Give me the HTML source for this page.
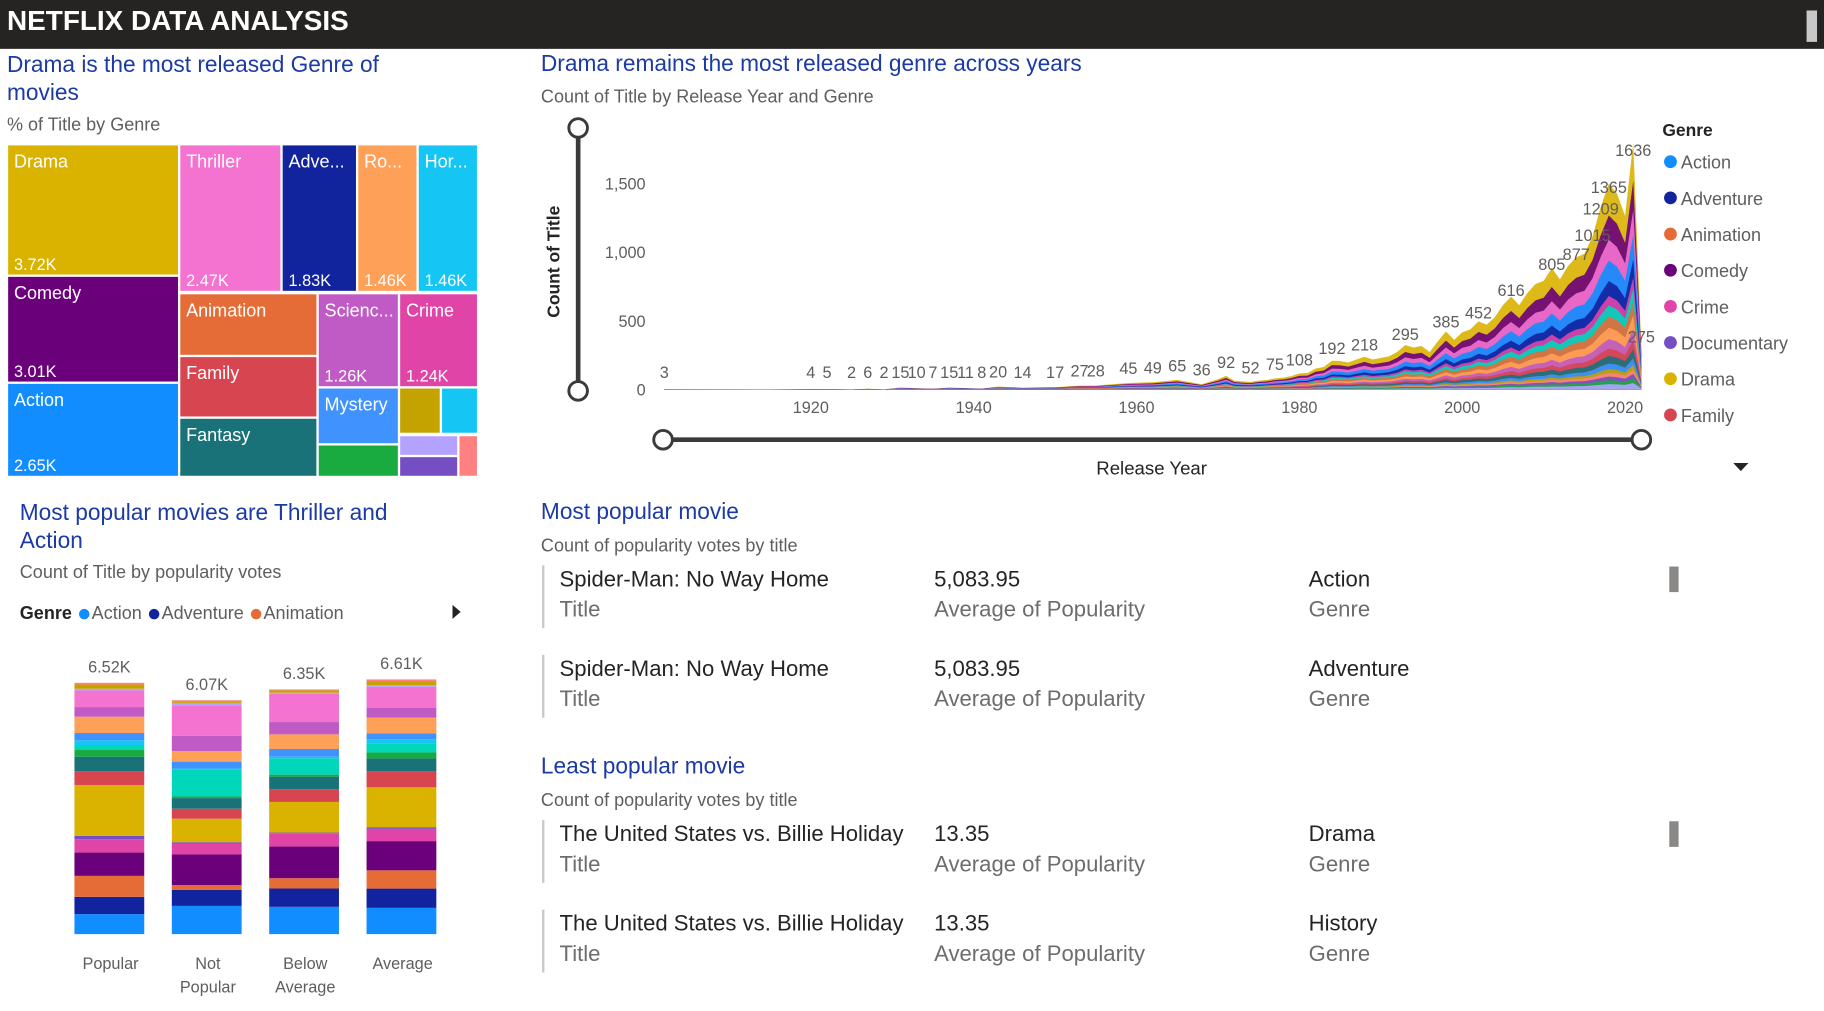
<!DOCTYPE html>
<html><head><meta charset="utf-8">
<style>
html,body{margin:0;padding:0;width:1824px;height:1011px;overflow:hidden;background:#fff;font-family:"Liberation Sans",sans-serif}
#root{position:absolute;left:0;top:0;width:1568px;height:869px;transform:scale(1.16327);transform-origin:0 0}
.abs{position:absolute}
.title{position:absolute;color:#1c3aa6;font-size:19.5px;line-height:24px}
.sub{position:absolute;color:#605e5c;font-size:15.5px}
.tm{position:absolute;color:#fff;font-size:15.5px;box-sizing:border-box;overflow:hidden}
.tm span{position:absolute;left:5px;top:6px;white-space:nowrap}
.tm b{position:absolute;left:5px;bottom:1px;font-weight:normal;font-size:14px}
.card{position:absolute;left:466px;width:1000px;height:54px;border-left:2px solid #c8c8c8}
.card div{position:absolute;font-size:19px;color:#252423;white-space:nowrap}
.card .l{color:#6f6d6b}
.dot{font-size:21px;line-height:10px;vertical-align:-2px}
</style></head><body>
<div id="root">
<div class="abs" style="left:0;top:0;width:1568px;height:42px;background:#252423"></div>
<div class="abs" style="left:6px;top:5px;color:#fff;font-weight:bold;font-size:24px">NETFLIX DATA ANALYSIS</div>
<div class="abs" style="left:1553px;top:9px;width:9px;height:27px;background:#c8c8c8"></div>

<div class="title" style="left:6px;top:44px;width:380px">Drama is the most released Genre of movies</div>
<div class="sub" style="left:6px;top:99px">% of Title by Genre</div>
<div>
<div class="tm" style="left:7px;top:125px;width:146px;height:111px;background:#d9b300"><span>Drama</span><b>3.72K</b></div>
<div class="tm" style="left:155px;top:125px;width:86px;height:125px;background:#f472d0"><span>Thriller</span><b>2.47K</b></div>
<div class="tm" style="left:243px;top:125px;width:63px;height:125px;background:#12239e"><span>Adve...</span><b>1.83K</b></div>
<div class="tm" style="left:308px;top:125px;width:50px;height:125px;background:#ffa058"><span>Ro...</span><b>1.46K</b></div>
<div class="tm" style="left:360px;top:125px;width:50px;height:125px;background:#15c6f4"><span>Hor...</span><b>1.46K</b></div>
<div class="tm" style="left:7px;top:238px;width:146px;height:90px;background:#6b007b"><span>Comedy</span><b>3.01K</b></div>
<div class="tm" style="left:7px;top:330px;width:146px;height:79px;background:#118dff"><span>Action</span><b>2.65K</b></div>
<div class="tm" style="left:155px;top:253px;width:117px;height:52px;background:#e66c37"><span>Animation</span></div>
<div class="tm" style="left:155px;top:307px;width:117px;height:51px;background:#d64550"><span>Family</span></div>
<div class="tm" style="left:155px;top:360px;width:117px;height:49px;background:#197278"><span>Fantasy</span></div>
<div class="tm" style="left:274px;top:253px;width:68px;height:79px;background:#c05bc5"><span>Scienc...</span><b>1.26K</b></div>
<div class="tm" style="left:344px;top:253px;width:66px;height:79px;background:#e044a7"><span>Crime</span><b>1.24K</b></div>
<div class="tm" style="left:274px;top:334px;width:68px;height:47px;background:#4092ff"><span>Mystery</span></div>
<div class="tm" style="left:274px;top:383px;width:68px;height:26px;background:#1aab40"></div>
<div class="tm" style="left:344px;top:334px;width:34px;height:38px;background:#c4a200"></div>
<div class="tm" style="left:380px;top:334px;width:30px;height:38px;background:#15c6f4"></div>
<div class="tm" style="left:344px;top:375px;width:49px;height:16px;background:#b3a3ff"></div>
<div class="tm" style="left:344px;top:393px;width:49px;height:16px;background:#744ec2"></div>
<div class="tm" style="left:395px;top:375px;width:15px;height:34px;background:#ff8080"></div>
</div>

<div class="title" style="left:465px;top:43px">Drama remains the most released genre across years</div>
<div class="sub" style="left:465px;top:75px">Count of Title by Release Year and Genre</div>
<svg class="abs" style="left:0;top:0" width="1568" height="869" id="area"></svg>

<div class="title" style="left:17px;top:429px;width:350px">Most popular movies are Thriller and Action</div>
<div class="sub" style="left:17px;top:484px">Count of Title by popularity votes</div>
<div class="abs" style="left:17px;top:519px;font-size:15.5px;color:#605e5c;white-space:nowrap">
<b style="color:#252423">Genre</b>
<span class="dot" style="color:#118dff">●</span>Action
<span class="dot" style="color:#12239e">●</span>Adventure
<span class="dot" style="color:#e66c37">●</span>Animation</div>
<div class="abs" style="left:389px;top:520px;width:0;height:0;border-top:6px solid transparent;border-bottom:6px solid transparent;border-left:7px solid #252423"></div>
<svg class="abs" style="left:0;top:0" width="1568" height="869" id="bars"></svg>

<div class="title" style="left:465px;top:428px">Most popular movie</div>
<div class="sub" style="left:465px;top:461px">Count of popularity votes by title</div>
<div class="card" style="top:486px"><div style="left:13px;top:2px">Spider-Man: No Way Home</div><div style="left:335px;top:2px">5,083.95</div><div style="left:657px;top:2px">Action</div><div class="l" style="left:13px;top:28px">Title</div><div class="l" style="left:335px;top:28px">Average of Popularity</div><div class="l" style="left:657px;top:28px">Genre</div></div>
<div class="card" style="top:563px"><div style="left:13px;top:2px">Spider-Man: No Way Home</div><div style="left:335px;top:2px">5,083.95</div><div style="left:657px;top:2px">Adventure</div><div class="l" style="left:13px;top:28px">Title</div><div class="l" style="left:335px;top:28px">Average of Popularity</div><div class="l" style="left:657px;top:28px">Genre</div></div>
<div class="abs" style="left:1435px;top:487px;width:8px;height:22px;background:#8a8886"></div>

<div class="title" style="left:465px;top:647px">Least popular movie</div>
<div class="sub" style="left:465px;top:680px">Count of popularity votes by title</div>
<div class="card" style="top:705px"><div style="left:13px;top:2px">The United States vs. Billie Holiday</div><div style="left:335px;top:2px">13.35</div><div style="left:657px;top:2px">Drama</div><div class="l" style="left:13px;top:28px">Title</div><div class="l" style="left:335px;top:28px">Average of Popularity</div><div class="l" style="left:657px;top:28px">Genre</div></div>
<div class="card" style="top:782px"><div style="left:13px;top:2px">The United States vs. Billie Holiday</div><div style="left:335px;top:2px">13.35</div><div style="left:657px;top:2px">History</div><div class="l" style="left:13px;top:28px">Title</div><div class="l" style="left:335px;top:28px">Average of Popularity</div><div class="l" style="left:657px;top:28px">Genre</div></div>
<div class="abs" style="left:1435px;top:706px;width:8px;height:22px;background:#8a8886"></div>
</div>

<script>
// ---- Area chart data ----
const years = [1902,1915,1920,1922,1925,1927,1929,1931,1933,1935,1937,1939,1941,1943,1946,1950,1953,1955,1959,1962,1965,1968,1970,1971,1972,1973,1974,1975,1976,1977,1978,1979,1980,1981,1982,1983,1984,1985,1986,1987,1988,1989,1990,1991,1992,1993,1994,1995,1996,1997,1998,1999,2000,2001,2002,2003,2004,2005,2006,2007,2008,2009,2010,2011,2012,2013,2014,2015,2016,2017,2018,2019,2020,2021,2022];
const totals = [3,2,4,5,2,6,2,15,10,7,15,11,8,20,14,17,27,28,45,49,65,36,70,92,60,55,52,60,65,75,80,90,108,110,140,150,192,190,180,200,218,200,210,220,250,295,280,290,250,320,385,330,380,400,452,430,480,560,616,560,640,700,720,805,730,820,877,900,1015,1209,1365,1300,1150,1636,275];
const labelYears = [1902,1920,1922,1925,1927,1929,1931,1933,1935,1937,1939,1941,1943,1946,1950,1953,1955,1959,1962,1965,1968,1971,1974,1977,1980,1984,1988,1993,1998,2002,2006,2011,2014,2016,2017,2018,2021,2022];
const stackGenres = ['Other','History','Documentary','TV Movie','Western','Mystery','Fantasy','Family','Science Fiction','Romance','Animation','Horror','Crime','Adventure','Action','Thriller','Comedy','Drama'];
const stackShares = [0.03,0.02,0.02,0.02,0.02,0.03,0.04,0.04,0.05,0.06,0.06,0.06,0.05,0.08,0.11,0.11,0.13,0.17];
const stackColors = ['#b3a3ff','#1aab40','#744ec2','#ff8080','#c4a200','#4092ff','#197278','#d64550','#c05bc5','#ffa058','#e66c37','#00d6b9','#e044a7','#12239e','#118dff','#f472d0','#6b007b','#d9b300'];
const yTicks = [0,500,1000,1500];
const xTicks = [1920,1940,1960,1980,2000,2020];
const legendNames = ['Action','Adventure','Animation','Comedy','Crime','Documentary','Drama','Family'];
const legendColors = ['#118dff','#12239e','#e66c37','#6b007b','#e044a7','#744ec2','#d9b300','#d64550'];

// ---- Bar chart data ----
const barCats = [['Popular'],['Not','Popular'],['Below','Average'],['Average']];
const barTotals = ['6.52K','6.07K','6.35K','6.61K'];
const barGenres = ['Action','Adventure','Animation','Comedy','Crime','Documentary','Drama','Family','Fantasy','History','Horror','Music','Mystery','Romance','Science Fiction','Thriller','Western','War','TV Movie'];
const barColors = ['#118dff','#12239e','#e66c37','#6b007b','#e044a7','#744ec2','#d9b300','#d64550','#197278','#1aab40','#00d6b9','#15c6f4','#4092ff','#ffa058','#c05bc5','#f472d0','#b3a3ff','#c4a200','#ff8080'];
const barPopular = [518,449,544,605,346,86,1322,354,380,173,130,121,190,423,250,432,43,112,43];
const barNotPopular = [732,413,129,792,284,34,611,258,276,43,689,34,181,276,396,792,60,34,34];
const barBelowAverage = [708,475,268,821,346,17,795,328,328,52,423,43,199,380,320,734,26,60,26];
const barAverage = [681,500,474,758,319,43,1034,422,328,155,241,103,155,405,259,543,43,103,43];

const NS='http://www.w3.org/2000/svg';
function mk(parent,tag,attrs,text){const e=document.createElementNS(NS,tag);for(const k in attrs)e.setAttribute(k,attrs[k]);if(text!==undefined)e.textContent=text;parent.appendChild(e);return e;}

// Area chart
const area=document.getElementById('area');
const xS=y=>697+(y-1920)*7.0;
const yS=v=>335-v*0.118;
yTicks.forEach(t=>{const e=mk(area,'text',{x:555,y:yS(t)+5,'text-anchor':'end','font-size':'14','fill':'#605e5c','font-family':'Liberation Sans'},t.toLocaleString('en-US'));

});
xTicks.forEach(t=>{const e=mk(area,'text',{x:xS(t),y:355,'text-anchor':'middle','font-size':'14','fill':'#605e5c','font-family':'Liberation Sans'},String(t));

});
const cum=[];let acc=0;stackShares.forEach(s=>{acc+=s;cum.push(acc);});
for(let g=stackGenres.length-1;g>=0;g--){
  let d='M'+xS(years[0])+','+yS(0);
  years.forEach((yr,i)=>{d+=' L'+xS(yr).toFixed(1)+','+yS(totals[i]*cum[g]).toFixed(1);});
  d+=' L'+xS(years[years.length-1])+','+yS(0)+' Z';
  const p=mk(area,'path',{d:d,fill:stackColors[g],'fill-opacity':'0.9'});
  
  
}
labelYears.forEach(yr=>{const i=years.indexOf(yr);if(i<0)return;const v=totals[i];
 const e=mk(area,'text',{x:xS(yr),y:Math.min(yS(v)-8,325),'text-anchor':'middle','font-size':'14','fill':'#605e5c','font-family':'Liberation Sans'},String(v));
 
 });
const yt=mk(area,'text',{transform:'translate(481,225) rotate(-90)','text-anchor':'middle','font-size':'15','font-weight':'bold','fill':'#252423','font-family':'Liberation Sans'},'Count of Title');


const xt=mk(area,'text',{x:990,y:408,'text-anchor':'middle','font-size':'16','fill':'#252423','font-family':'Liberation Sans'},'Release Year');


const vs=mk(area,'line',{x1:497,y1:110,x2:497,y2:336,stroke:'#3b3a39','stroke-width':'4'});


[110,336].forEach(cy=>{const c=mk(area,'circle',{cx:497,cy:cy,r:8,fill:'#fff',stroke:'#3b3a39','stroke-width':'2.5'});

});
const hs=mk(area,'line',{x1:570,y1:378,x2:1411,y2:378,stroke:'#3b3a39','stroke-width':'4'});


[570,1411].forEach(cx=>{const c=mk(area,'circle',{cx:cx,cy:378,r:8,fill:'#fff',stroke:'#3b3a39','stroke-width':'2.5'});

});
const dd=mk(area,'path',{d:'M1490,398 L1503,398 L1496.5,405 Z',fill:'#252423'});


const lt=mk(area,'text',{x:1429,y:117,'font-size':'15','font-weight':'bold','fill':'#252423','font-family':'Liberation Sans'},'Genre');


legendNames.forEach((n,i)=>{const y=139+i*31.1;
 const c=mk(area,'circle',{cx:1436,cy:y,r:5.5,fill:legendColors[i]});
 
 
 const t=mk(area,'text',{x:1445,y:y+6,'font-size':'15.5','fill':'#605e5c','font-family':'Liberation Sans'},n);
 
 });

// Bar chart
const bars=document.getElementById('bars');
const barSeries=[barPopular,barNotPopular,barBelowAverage,barAverage];
const bX=i=>64+i*83.7, bW=60, bBase=803, bScale=216/6520;
barSeries.forEach((vals,i)=>{let y=bBase;
 vals.forEach((v,g)=>{const h=v*bScale;y-=h;
  const r=mk(bars,'rect',{x:bX(i),y:y,width:bW,height:h,fill:barColors[g]});
  
  });
 const t=mk(bars,'text',{x:bX(i)+bW/2,y:y-9,'text-anchor':'middle','font-size':'14','fill':'#605e5c','font-family':'Liberation Sans'},barTotals[i]);
 
 
 barCats[i].forEach((ln,j)=>{const c=mk(bars,'text',{x:bX(i)+bW/2+1,y:833+j*20,'text-anchor':'middle','font-size':'14','fill':'#605e5c','font-family':'Liberation Sans'},ln);
 
 });
});
</script>
</body></html>
